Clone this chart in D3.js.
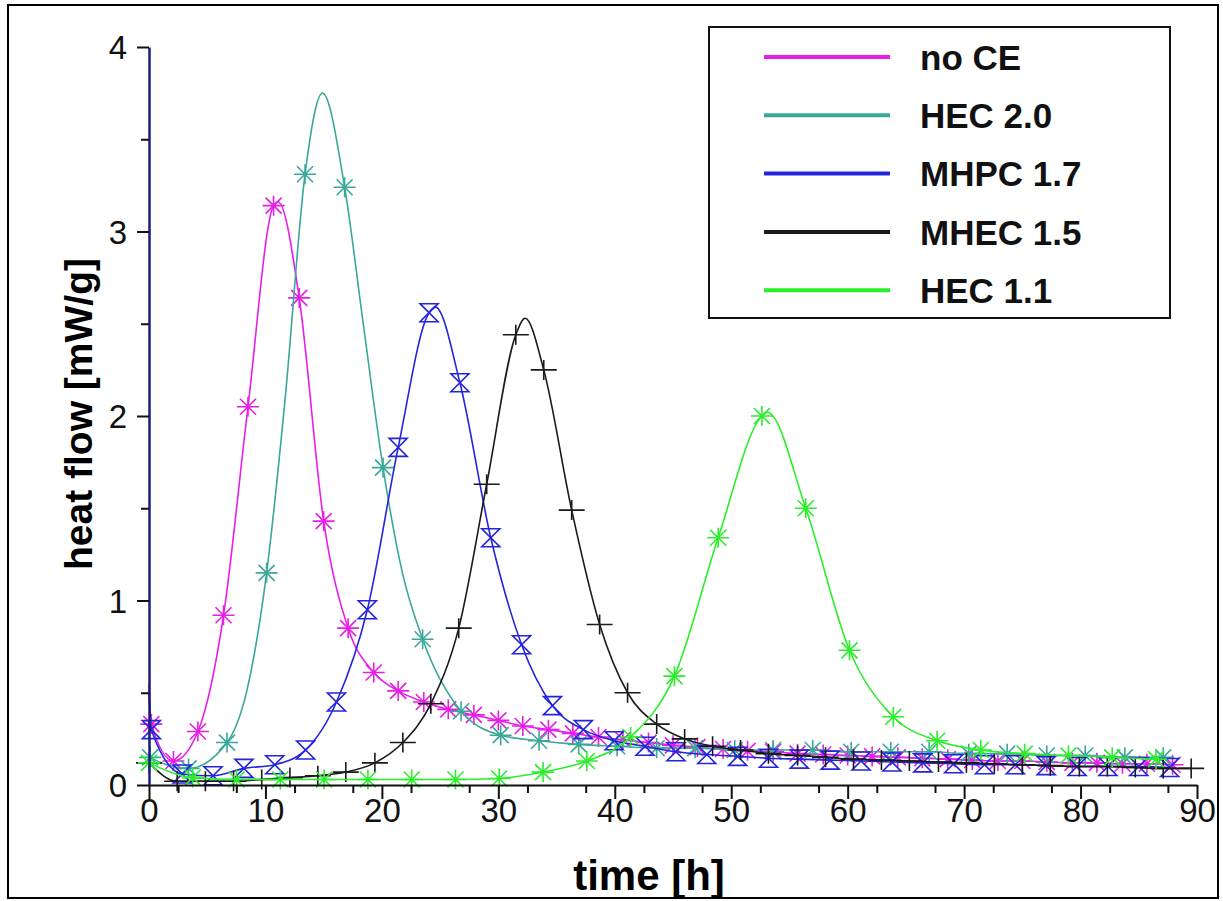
<!DOCTYPE html>
<html>
<head>
<meta charset="utf-8">
<script src="https://cdnjs.cloudflare.com/ajax/libs/d3/7.8.5/d3.min.js"></script>
<style>
body { margin: 0; background: #fff; }
svg { display: block; font-family: Arial, "Liberation Sans", sans-serif; }
.line { fill: none; stroke-width: 1.6; }
.mark { fill: none; stroke-width: 1.6; }
</style>
</head>
<body>
<svg></svg>
<script>
var names = ['no CE', 'HEC 2.0', 'MHPC 1.7', 'MHEC 1.5', 'HEC 1.1'],
    colors = ['#e81ee8', '#3aa898', '#2424dc', '#1a1a1a', '#2aee2a'],
    symbols = ['star', 'star', 'hourglass', 'plus', 'star'];

var xTicks = [0, 10, 20, 30, 40, 50, 60, 70, 80, 90],
    yTicks = [0, 1, 2, 3, 4];

// marker points [time h, heat flow mW/g]
var noCeMarks = [[0.2, 0.33], [2.1, 0.13], [4.2, 0.29], [6.4, 0.92], [8.5, 2.05], [10.7, 3.14], [12.9, 2.64],
    [15.0, 1.43], [17.1, 0.85], [19.3, 0.61], [21.4, 0.51], [23.6, 0.45], [25.7, 0.41], [27.9, 0.38], [30.0, 0.35],
    [32.1, 0.32], [34.3, 0.30], [36.4, 0.28], [38.6, 0.26], [40.7, 0.245], [42.9, 0.23], [45.0, 0.215], [47.1, 0.205],
    [49.3, 0.195], [51.4, 0.185], [53.6, 0.18], [55.7, 0.17], [57.9, 0.165], [60.0, 0.16], [62.1, 0.155], [64.3, 0.15],
    [66.4, 0.145], [68.6, 0.14], [70.7, 0.135], [72.9, 0.13], [75.0, 0.13], [77.1, 0.125], [79.3, 0.12], [81.4, 0.12],
    [83.6, 0.115], [85.7, 0.115], [87.9, 0.11]];
var noCeExtra = [[0, 0.55], [11.1, 3.16]];

var hec20Marks = [[0.1, 0.15], [3.4, 0.09], [6.7, 0.23], [10.1, 1.15], [13.4, 3.31], [16.8, 3.24], [20.1, 1.72],
    [23.5, 0.79], [26.8, 0.40], [30.2, 0.27], [33.5, 0.24], [36.9, 0.22], [40.2, 0.21], [43.6, 0.2], [46.9, 0.2],
    [50.3, 0.19], [53.6, 0.19], [57.0, 0.19], [60.3, 0.18], [63.7, 0.18], [67.0, 0.18], [70.4, 0.17], [73.7, 0.17],
    [77.1, 0.16], [80.4, 0.16], [83.8, 0.15], [87.1, 0.15]];
var hec20Extra = [[0, 0.3], [8.4, 0.51], [11.7, 2.1], [14.9, 3.75], [18.4, 2.5], [21.8, 1.14]];

var mhpcMarks = [[0.2, 0.3], [2.85, 0.06], [5.5, 0.05], [8.15, 0.09], [10.8, 0.11], [13.45, 0.19], [16.1, 0.45],
    [18.75, 0.95], [21.4, 1.83], [24.05, 2.56], [26.7, 2.18], [29.35, 1.34], [32.0, 0.76], [34.65, 0.43], [37.3, 0.3],
    [39.95, 0.24], [42.6, 0.21], [45.25, 0.18], [47.9, 0.165], [50.55, 0.155], [53.2, 0.145], [55.85, 0.14],
    [58.5, 0.135], [61.15, 0.13], [63.8, 0.125], [66.45, 0.12], [69.1, 0.115], [71.75, 0.11], [74.4, 0.11],
    [77.05, 0.105], [79.7, 0.1], [82.35, 0.1], [85.0, 0.1], [87.65, 0.095]];
var mhpcExtra = [[0, 0.5], [24.6, 2.59]];

var mhecMarks = [[0, 0.12], [2.42, 0.02], [4.84, 0.02], [7.26, 0.02], [9.68, 0.03], [12.1, 0.04], [14.5, 0.05],
    [16.9, 0.07], [19.4, 0.12], [21.8, 0.23], [24.2, 0.44], [26.6, 0.85], [29.0, 1.63], [31.5, 2.44], [33.9, 2.25],
    [36.3, 1.49], [38.7, 0.87], [41.1, 0.5], [43.6, 0.33], [46.0, 0.25], [48.4, 0.21], [50.8, 0.19], [53.2, 0.17],
    [55.7, 0.16], [58.1, 0.15], [60.5, 0.14], [62.9, 0.135], [65.3, 0.13], [67.8, 0.125], [70.2, 0.12], [72.6, 0.115],
    [75.0, 0.11], [77.4, 0.105], [79.9, 0.1], [82.3, 0.1], [84.7, 0.095], [87.1, 0.09], [89.5, 0.09]];
var mhecExtra = [[32.3, 2.53]];

var hec11Marks = [[0, 0.12], [3.76, 0.04], [7.52, 0.03], [11.28, 0.03], [15.04, 0.03], [18.8, 0.03], [22.56, 0.03],
    [26.32, 0.03], [30.08, 0.035], [33.84, 0.07], [37.6, 0.13], [41.36, 0.26], [45.12, 0.59], [48.88, 1.34],
    [52.64, 2.0], [56.4, 1.5], [60.16, 0.73], [63.92, 0.37], [67.68, 0.24], [71.44, 0.19], [75.2, 0.17],
    [78.96, 0.16], [82.72, 0.15], [86.48, 0.14]];
var hec11Extra = [[53.1, 2.02]];

var marks = [noCeMarks, hec20Marks, mhpcMarks, mhecMarks, hec11Marks],
    extras = [noCeExtra, hec20Extra, mhpcExtra, mhecExtra, hec11Extra];

var width = 1223,
    height = 901,
    svg = d3.select('svg')
    .attr('width', width)
    .attr('height', height);

var x = d3.scaleLinear().domain([0, 90]).range([149, 1197]),
    y = d3.scaleLinear().domain([0, 4]).range([785, 47]);

var shapes = {
    star: 'M-11,0H11M0,-10V10M-8,-8L8,8M-8,8L8,-8',
    hourglass: 'M-9,-9H9L-9,9H9Z',
    plus: 'M-13,0H13M0,-10V10'
};

svg.append('rect')
    .attr('x', 8)
    .attr('y', 5)
    .attr('width', 1210)
    .attr('height', 893)
    .attr('fill', 'none')
    .attr('stroke', '#000')
    .attr('stroke-width', 2);

var line = d3.line()
    .curve(d3.curveMonotoneX)
    .x(function (d) { return x(d[0]); })
    .y(function (d) { return y(d[1]); });

var chart = svg.append('g').attr('class', 'chart');

marks.forEach(function (m, i) {
    var pts = m.concat(extras[i]).sort(function (a, b) { return a[0] - b[0]; });
    var g = chart.append('g').attr('class', 'series');
    g.append('path')
        .attr('class', 'line')
        .attr('stroke', colors[i])
        .attr('d', line(pts));
    g.selectAll('.mark')
        .data(m)
        .enter().append('path')
        .attr('class', 'mark')
        .attr('stroke', colors[i])
        .attr('transform', function (d) { return 'translate(' + x(d[0]) + ',' + y(d[1]) + ')'; })
        .attr('d', shapes[symbols[i]]);
});

// axes
var xAxis = svg.append('g')
    .attr('class', 'axis axis-x')
    .attr('transform', 'translate(0,785)')
    .call(d3.axisBottom(x).tickValues(xTicks).tickSize(14).tickSizeOuter(0).tickPadding(0));
svg.append('g')
    .attr('class', 'axis axis-x-minor')
    .attr('transform', 'translate(0,785)')
    .call(d3.axisBottom(x).tickValues(d3.range(2.5, 90, 5)).tickSize(8).tickFormat(''))
    .select('.domain').remove();

var yAxis = svg.append('g')
    .attr('class', 'axis axis-y')
    .attr('transform', 'translate(149,0)')
    .call(d3.axisLeft(y).tickValues(yTicks).tickFormat(d3.format('d'))
        .tickSize(12).tickSizeOuter(0).tickPadding(10));
svg.append('g')
    .attr('class', 'axis axis-y-minor')
    .attr('transform', 'translate(149,0)')
    .call(d3.axisLeft(y).tickValues([0.5, 1.5, 2.5, 3.5]).tickSize(8).tickFormat(''))
    .select('.domain').remove();

svg.selectAll('.axis .tick line').attr('stroke', '#111').attr('stroke-width', 2);
xAxis.select('.domain').attr('stroke', '#111').attr('stroke-width', 2);
yAxis.select('.domain').attr('stroke', '#1c1c78').attr('stroke-width', 2.5);
svg.selectAll('.axis text')
    .attr('fill', '#111')
    .style('font-size', '33px')
    .style('font-family', 'Arial, "Liberation Sans", sans-serif');
yAxis.selectAll('text').attr('dy', '0.36em');

svg.append('text')
    .attr('x', 649)
    .attr('y', 890)
    .attr('text-anchor', 'middle')
    .style('font-size', '42px')
    .style('font-weight', 'bold')
    .text('time [h]');

svg.append('text')
    .attr('transform', 'translate(92,414) rotate(-90)')
    .attr('text-anchor', 'middle')
    .style('font-size', '39px')
    .style('font-weight', 'bold')
    .text('heat flow [mW/g]');

// legend
var legend = svg.append('g').attr('class', 'legend');
legend.append('rect')
    .attr('x', 709)
    .attr('y', 27)
    .attr('width', 461)
    .attr('height', 291)
    .attr('fill', '#fff')
    .attr('stroke', '#111')
    .attr('stroke-width', 2);

var li = legend.selectAll('.li')
    .data(names)
    .enter().append('g')
    .attr('class', 'li')
    .attr('transform', function (d, i) { return 'translate(0,' + (57 + i * 58.3) + ')'; });

li.append('line')
    .attr('x1', 764)
    .attr('x2', 890)
    .attr('stroke', function (d, i) { return colors[i]; })
    .attr('stroke-width', 4);

li.append('text')
    .attr('x', 920)
    .attr('dy', '0.36em')
    .style('font-size', '35px')
    .style('font-weight', 'bold')
    .attr('fill', '#111')
    .text(function (d) { return d; });
</script>
</body>
</html>
